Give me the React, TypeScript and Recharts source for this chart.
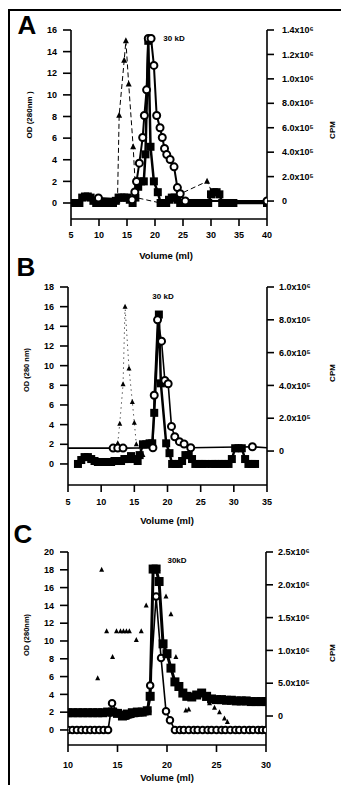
import React from 'react';
import { ComposedChart, Line, XAxis, YAxis } from 'recharts';

// ---------- Panel A ----------
const aXTicks = [5, 10, 15, 20, 25, 30, 35, 40];
const aODTicks = [0, 2, 4, 6, 8, 10, 12, 14, 16];
const aCPMTicks = [0, 200000, 400000, 600000, 800000, 1000000, 1200000, 1400000];
const aCPMLabels = ['0', '2.0x10⁵', '4.0x10⁵', '6.0x10⁵', '8.0x10⁵', '1.0x10⁶', '1.2x10⁶', '1.4x10⁶'];
const aSquareX = [5, 5.5, 6, 6.5, 7, 7.5, 8, 8.5, 9, 9.5, 10, 10.5, 11, 11.5, 12, 12.5, 13, 13.5, 14, 14.5, 15, 15.5, 16, 16.5, 17, 17.5, 18,
  18.3, 18.8, 19.2, 19.8, 20.5,
  21, 21.5, 22, 22.5, 23, 23.5, 24, 24.5, 25, 25.5,
  26.5, 27, 27.5, 28, 28.5, 29, 29.5, 30, 30.5, 31, 31.5, 32, 32.5, 33, 33.5, 34, 40];
const aSquareOD = [0, 0, 0, 0, 0.5, 0.6, 0.6, 0.5, 0.2, 0, 0, 0, 0, 0, 0, 0, 0.2, 0.5, 0.5, 0.5, 0.5, 0.3, 0, 0.5, 1.5, 2, 2,
  4.5, 15, 5.2, 2, 1,
  0, 0, 0, 0.3, 0.5, 0.5, 0.3, 0, 0, 0,
  0, 0, 0, 0, 0, 0, 0, 0.8, 1, 1, 0.8, 0, 0, 0, 0, 0, 0];
const aCircleX = [9.9, 15.9, 16.4, 16.7, 17.2, 17.8, 18.1, 18.5, 18.8, 19.3, 19.8, 20.3, 20.9, 21.3, 21.7, 22.1, 22.7, 23.4, 24.0, 24.5, 25.4, 40];
const aCircleCPM = [25000, 10000, 75000, 160000, 310000, 520000, 700000, 910000, 1330000, 1330000, 1110000, 700000, 600000, 520000, 430000, 380000, 340000, 280000, 110000, 60000, 0, 0];
const aTriangleX = [13.3, 13.6, 14.5, 14.8, 15.3, 16.1, 16.6, 21, 29.3, 30.2];
const aTriangleOD = [0.2, 8.1, 13.2, 15, 11, 5.2, 0.5, 0, 2, 1];

// ---------- Panel B ----------
const bXTicks = [5, 10, 15, 20, 25, 30, 35];
const bODTicks = [0, 2, 4, 6, 8, 10, 12, 14, 16, 18];
const bCPMTicks = [0, 200000, 400000, 600000, 800000, 1000000];
const bCPMLabels = ['0', '2.0x10⁵', '4.0x10⁵', '6.0x10⁵', '8.0x10⁵', '1.0x10⁶'];
const bSquareX = [6.5, 7, 7.5, 8, 8.5, 9, 9.5, 10, 10.5, 11, 11.5, 12, 12.5, 13, 13.5, 14, 14.5, 15, 15.5,
  15.8, 16.3, 16.8, 17.3, 17.7, 18.0, 18.7, 19.0, 19.8, 20.3, 20.7,
  21.2, 21.7, 22.2, 22.7, 23.2, 23.7, 24.2, 24.7, 25.2, 25.7,
  26.7, 27.2, 27.7, 28.2, 28.7, 29.2, 29.7, 30.2, 30.7, 31.2, 31.7, 32.2, 32.7, 33.2];
const bSquareOD = [0, 0.4, 0.7, 0.7, 0.5, 0.3, 0.2, 0.2, 0.2, 0.2, 0.2, 0.3, 0.3, 0.3, 0.5, 0.5, 0.8, 0.5, 0.3,
  0.9, 2, 2, 2.1, 2.1, 5.2, 15.2, 8.2, 2.1, 1.1, 0,
  0, 0, 0.3, 0.9, 0.9, 0.5, 0, 0, 0, 0,
  0, 0, 0, 0, 0, 0, 0.5, 1.6, 1.6, 1.6, 0.5, 0, 0, 0];
const bCircleX = [5, 11.8, 12.5, 13.3, 17.8, 18.0, 18.5, 19.1, 19.6, 20.1, 20.6, 21.1, 21.8, 22.5, 23.5, 32.8, 35];
const bCircleCPM = [18000, 18000, 18000, 18000, 20000, 340000, 800000, 670000, 430000, 410000, 150000, 87000, 57000, 43000, 20000, 26000, 20000];
const bTriangleX = [12.5, 12.8, 13.3, 13.6, 14.2, 14.7, 15.0, 15.3, 16.3];
const bTriangleOD = [2.1, 4.1, 8.1, 16, 9.7, 6.3, 4.2, 2, 0.9];

// ---------- Panel C ----------
const cXTicks = [10, 15, 20, 25, 30];
const cODTicks = [0, 2, 4, 6, 8, 10, 12, 14, 16, 18, 20];
const cCPMTicks = [0, 500000, 1000000, 1500000, 2000000, 2500000];
const cCPMLabels = ['0', '5.0x10⁵', '1.0x10⁶', '1.5x10⁶', '2.0x10⁶', '2.5x10⁶'];
const cCircleX = [10, 10.45, 10.9, 11.35, 11.8, 12.25, 12.7, 13.15, 13.6, 14.05,
  14.45, 15, 15.5, 16, 16.5, 17, 17.5, 18, 18.3, 18.9, 19.4, 19.9, 20.3,
  20.8, 21.3, 21.7, 22.2, 22.7, 23.1, 23.6, 24.1, 24.5, 25.0, 25.5, 25.9, 26.4, 26.9, 27.3, 27.8, 28.3, 28.7, 29.2, 29.6, 30.0];
const cCircleOD = [0, 0, 0, 0, 0, 0, 0, 0, 0, 0,
  3, 1.9, 1.7, 1.6, 1.8, 1.9, 2, 2.1, 5, 15, 8.1, 2.1, 1.1,
  0, 0, 0, 0, 0, 0, 0, 0, 0, 0, 0, 0, 0, 0, 0, 0, 0, 0, 0, 0, 0];
const cSquareX = [10, 10.5, 11, 11.5, 12, 12.5, 13, 13.5, 14, 14.5, 15, 15.5, 16, 16.5, 17, 17.5, 18,
  18.3, 18.6, 18.9, 19.2, 19.6, 20.0, 20.4, 20.8,
  21.2, 21.6, 22.0,
  22.5, 23.0, 23.5, 24.0, 24.5, 25.0, 25.5, 26.0, 26.5, 27.0, 27.5, 28.0, 28.5, 29.0, 29.5, 30.0];
const cSquareCPM = [50000, 50000, 50000, 50000, 50000, 50000, 50000, 50000, 60000, 60000, 40000, 0, 30000, 50000, 60000, 60000, 80000,
  300000, 2240000, 2240000, 2050000, 1100000, 950000, 730000, 520000,
  450000, 350000, 300000,
  290000, 320000, 350000, 300000, 260000, 250000, 250000, 240000, 240000, 230000, 230000, 230000, 220000, 220000, 220000, 220000];
const cTriangleX = [13.0, 13.4, 13.9, 14.5, 14.9, 15.3, 15.6, 15.9, 16.2, 16.9, 17.4, 17.9, 18.5, 18.8, 19.1, 19.9, 20.4, 20.9, 21.9, 22.2, 23.3, 23.8, 24.3, 24.8, 25.3, 25.8, 26.1];
const cTriangleOD = [5.8, 18, 11.1, 8.2, 11.1, 11.1, 11.1, 11.1, 11.1, 10.1, 11.1, 14.0, 18.1, 18.1, 18.1, 15.0, 13.0, 8.2, 2.2, 2.3, 4.1, 3.5, 3.0, 2.5, 2.0, 1.3, 0.9];

const pts = (xs: number[], ys: number[]) => xs.map((x, i) => ({ x, y: ys[i] }));

const FONT = '"Liberation Sans", Arial, Helvetica, sans-serif';
const tickStyle = { fontSize: 9, fontWeight: 700, fill: '#000', fontFamily: FONT };

type Series = {
  data: { x: number; y: number }[];
  axis: 'left' | 'right';
  kind: 'square' | 'circle' | 'triangle';
  size?: number;
  dash?: string;
  width?: number;
  noLine?: boolean;
  edgeNoDot?: boolean;
};

function makeDot(s: Series) {
  const n = s.data.length;
  return (p: any) => {
    const { cx, cy, index } = p;
    const k = `${s.kind}-${index}`;
    if (cx == null || cy == null) return <g key={k} />;
    if (s.edgeNoDot && (index === 0 || index === n - 1)) return <g key={k} />;
    const sz = s.size ?? 7;
    if (s.kind === 'square') {
      return <rect key={k} x={cx - sz / 2} y={cy - sz / 2} width={sz} height={sz} fill="#000" />;
    }
    if (s.kind === 'circle') {
      return <circle key={k} cx={cx} cy={cy} r={sz / 2} fill="#fff" stroke="#000" strokeWidth={2} />;
    }
    const h = sz;
    return (
      <path key={k} d={`M${cx},${cy - h * 0.6} L${cx + h * 0.5},${cy + h * 0.4} L${cx - h * 0.5},${cy + h * 0.4} Z`} fill="#000" />
    );
  };
}

type PanelProps = {
  top: number;
  height: number;
  margin: { top: number; right: number; bottom: number; left: number };
  xDomain: [number, number];
  xTicks: number[];
  xTickMargin: number;
  leftDomain: [number, number];
  leftTicks: number[];
  rightDomain: [number, number];
  rightTicks: number[];
  rightLabels: string[];
  rightTickMargin: number;
  series: Series[];
};

function Panel(p: PanelProps) {
  return (
    <div style={{ position: 'absolute', left: 0, top: p.top, width: 341, height: p.height }}>
      <ComposedChart width={341} height={p.height} margin={p.margin}>
        <XAxis
          type="number"
          dataKey="x"
          domain={p.xDomain}
          ticks={p.xTicks}
          interval={0}
          allowDataOverflow
          height={22}
          tickSize={7}
          tickMargin={p.xTickMargin}
          tick={tickStyle}
          axisLine={{ stroke: '#000', strokeWidth: 1.6 }}
          tickLine={{ stroke: '#000', strokeWidth: 1.6 }}
        />
        <YAxis
          yAxisId="left"
          type="number"
          domain={p.leftDomain}
          ticks={p.leftTicks}
          interval={0}
          allowDataOverflow
          width={30}
          tickSize={8}
          tickMargin={6}
          tick={tickStyle}
          axisLine={{ stroke: '#000', strokeWidth: 1.6 }}
          tickLine={{ stroke: '#000', strokeWidth: 1.6 }}
        />
        <YAxis
          yAxisId="right"
          orientation="right"
          type="number"
          domain={p.rightDomain}
          ticks={p.rightTicks}
          interval={0}
          allowDataOverflow
          width={40}
          tickSize={7}
          tickMargin={p.rightTickMargin}
          tick={{ ...tickStyle, textAnchor: 'start' }}
          tickFormatter={(v: number) => {
            const i = p.rightTicks.indexOf(v);
            return i >= 0 ? p.rightLabels[i] : '';
          }}
          axisLine={{ stroke: '#000', strokeWidth: 1.6 }}
          tickLine={{ stroke: '#000', strokeWidth: 1.6 }}
        />
        {p.series.map((s, i) => (
          <Line
            key={i}
            data={s.data}
            dataKey="y"
            yAxisId={s.axis}
            type="linear"
            stroke={s.noLine ? 'none' : '#000'}
            strokeWidth={s.width ?? 1.5}
            strokeDasharray={s.dash}
            dot={makeDot(s)}
            activeDot={false}
            isAnimationActive={false}
            legendType="none"
          />
        ))}
      </ComposedChart>
    </div>
  );
}

function Txt({ x, y, size, rotate = 0, children }: { x: number; y: number; size: number; rotate?: number; children: React.ReactNode }) {
  return (
    <div
      style={{
        position: 'absolute',
        left: x,
        top: y,
        transform: `translate(-50%, -50%) rotate(${rotate}deg)`,
        fontSize: size,
        fontWeight: 700,
        lineHeight: 1,
        whiteSpace: 'nowrap',
        color: '#000',
        fontFamily: FONT,
      }}
    >
      {children}
    </div>
  );
}

export default function App() {
  const seriesA: Series[] = [
    { data: pts(aSquareX, aSquareOD), axis: 'left', kind: 'square', size: 8, width: 2.5 },
    { data: pts(aTriangleX, aTriangleOD), axis: 'left', kind: 'triangle', size: 6, dash: '5 3', width: 1 },
    { data: pts(aCircleX, aCircleCPM), axis: 'right', kind: 'circle', size: 7, width: 2 },
  ];
  const seriesB: Series[] = [
    { data: pts(bSquareX, bSquareOD), axis: 'left', kind: 'square', size: 8, width: 2.5 },
    { data: pts(bTriangleX, bTriangleOD), axis: 'left', kind: 'triangle', size: 5, dash: '1 4', width: 1 },
    { data: pts(bCircleX, bCircleCPM), axis: 'right', kind: 'circle', size: 7, width: 1.6, edgeNoDot: true },
  ];
  const seriesC: Series[] = [
    { data: pts(cCircleX, cCircleOD), axis: 'left', kind: 'circle', size: 6.5, width: 1.6 },
    { data: pts(cSquareX, cSquareCPM), axis: 'right', kind: 'square', size: 9, width: 3 },
    { data: pts(cTriangleX, cTriangleOD), axis: 'left', kind: 'triangle', size: 5, noLine: true },
  ];

  return (
    <div style={{ position: 'absolute', left: 0, top: 0, width: 341, height: 785, overflow: 'hidden', background: '#fff', fontFamily: FONT }}>
      <div style={{ position: 'absolute', left: 8, top: 9, width: 360, height: 800, borderTop: '2px solid #000', borderLeft: '2px solid #000' }} />
      <Panel
        top={0}
        height={262}
        margin={{ top: 30, right: 34, bottom: 21, left: 41 }}
        xDomain={[5, 40]}
        xTicks={aXTicks}
        xTickMargin={6}
        leftDomain={[-1.48, 16]}
        leftTicks={aODTicks}
        rightDomain={[-147000, 1400000]}
        rightTicks={aCPMTicks}
        rightLabels={aCPMLabels}
        rightTickMargin={8}
        series={seriesA}
      />
      <Panel
        top={255}
        height={265}
        margin={{ top: 32, right: 34, bottom: 13, left: 38 }}
        xDomain={[5, 35]}
        xTicks={bXTicks}
        xTickMargin={7}
        leftDomain={[-2.14, 18]}
        leftTicks={bODTicks}
        rightDomain={[-207000, 1000000]}
        rightTicks={bCPMTicks}
        rightLabels={bCPMLabels}
        rightTickMargin={5}
        series={seriesB}
      />
      <Panel
        top={520}
        height={265}
        margin={{ top: 32, right: 35, bottom: 18, left: 38 }}
        xDomain={[10, 30]}
        xTicks={cXTicks}
        xTickMargin={10}
        leftDomain={[-1.69, 20]}
        leftTicks={cODTicks}
        rightDomain={[-442000, 2500000]}
        rightTicks={cCPMTicks}
        rightLabels={cCPMLabels}
        rightTickMargin={5}
        series={seriesC}
      />
      <div style={{ position: 'absolute', left: 0, top: 0, width: 341, height: 785, pointerEvents: 'none' }}>
        <Txt x={27} y={25} size={26}>A</Txt>
        <Txt x={26} y={267} size={26}>B</Txt>
        <Txt x={23} y={534} size={26}>C</Txt>
        <Txt x={30} y={115} size={8} rotate={-90}>OD (280nm )</Txt>
        <Txt x={27} y={370} size={7.5} rotate={-90}>OD (280 nm)</Txt>
        <Txt x={27} y={635} size={7.5} rotate={-90}>OD (280nm)</Txt>
        <Txt x={333} y={130} size={8} rotate={-90}>CPM</Txt>
        <Txt x={333} y={373} size={8} rotate={-90}>CPM</Txt>
        <Txt x={333} y={653} size={8} rotate={-90}>CPM</Txt>
        <Txt x={166} y={256} size={9.5}>Volume (ml)</Txt>
        <Txt x={167} y={521} size={9.5}>Volume (ml)</Txt>
        <Txt x={167} y={778} size={9.5}>Volume (ml)</Txt>
        <Txt x={174} y={39} size={8}>30 kD</Txt>
        <Txt x={163} y={297} size={8}>30 kD</Txt>
        <Txt x={177} y={561} size={8}>30kD</Txt>
      </div>
    </div>
  );
}
